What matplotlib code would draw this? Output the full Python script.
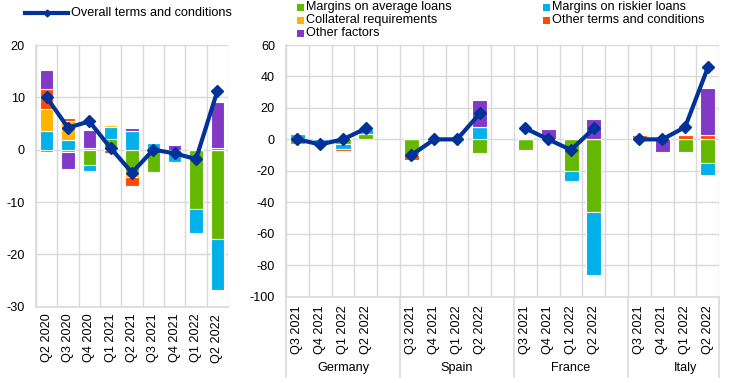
import matplotlib
matplotlib.use("Agg")
import matplotlib.pyplot as plt
import numpy as np
from matplotlib.lines import Line2D
from matplotlib.patches import Rectangle
import matplotlib.transforms as mtransforms

plt.rcParams['font.family'] = ['Liberation Sans', 'DejaVu Sans']
plt.rcParams['axes.unicode_minus'] = False
FS = 9.1

# ---------------- data ----------------
left_cats = ['Q2 2020', 'Q3 2020', 'Q4 2020', 'Q1 2021', 'Q2 2021',
             'Q3 2021', 'Q4 2021', 'Q1 2022', 'Q2 2022']
l_avg = [-0.4, -0.4, -2.9, 2.0, -4.3, -4.3, 0.0, -11.4, -17.0]
l_risk = [3.5, 1.9, -1.1, 2.4, 3.6, 1.3, -2.3, -4.6, -9.9]
l_coll = [4.3, 3.6, 0.4, 0.25, -1.0, 0.0, 0.0, 0.0, 0.0]
l_oterms = [3.7, 0.6, 0.0, -0.6, -1.7, -0.2, -0.2, 0.0, 0.4]
l_ofact = [3.8, -3.3, 3.3, 0.0, 0.6, 0.0, 0.9, 0.0, 8.7]
l_overall = [10.0, 4.2, 5.4, 0.3, -4.4, 0.0, -0.7, -1.8, 11.2]

countries = ['Germany', 'Spain', 'France', 'Italy']
quarters = ['Q3 2021', 'Q4 2021', 'Q1 2022', 'Q2 2022']
c_avg = [-3.0, 0.0, -2.8, 3.2, -10.0, 0.0, 0.0, -8.4,
         -6.7, 0.0, -20.0, -46.3, 0.0, 0.0, -7.8, -15.2]
c_risk = [3.2, -1.5, -3.6, 3.2, 0.0, 0.0, 0.0, 8.0,
          0.0, 0.0, -6.3, -39.7, 0.0, 0.0, 0.0, -7.4]
c_coll = [0.0] * 16
c_oterms = [-0.8, 0.0, -0.8, 1.3, -3.1, 0.0, 0.0, 0.0,
            0.0, 0.0, 0.0, 0.0, 2.5, 0.0, 2.5, 2.5]
c_ofact = [0.0, 0.0, 0.0, 0.0, 0.0, 0.0, 0.0, 16.8,
           0.0, 6.3, 0.0, 13.1, 0.0, -7.8, 0.0, 30.3]
c_overall = [0.0, -3.2, 0.0, 7.0, -10.0, 0.0, 0.0, 16.5,
             7.0, 0.0, -6.7, 7.0, 0.0, 0.0, 7.8, 45.7]

series_names = ['Margins on average loans', 'Margins on riskier loans',
                'Collateral requirements', 'Other terms and conditions',
                'Other factors']
colors = ['#65B800', '#00B1EA', '#FFB400', '#FF4B00', '#8139C6']
line_color = '#003299'
grid_color = '#D9D9D9'

fig = plt.figure(figsize=(7.44, 3.83), dpi=100)
W, H = 744, 383


def ax_rect(x0, y0, x1, y1):
    return [x0 / W, 1 - y1 / H, (x1 - x0) / W, (y1 - y0) / H]


def stacked(ax, x, series, width):
    pos = np.zeros(len(x))
    neg = np.zeros(len(x))
    for vals, col in zip(series, colors):
        v = np.array(vals, dtype=float)
        bottom = np.where(v >= 0, pos, neg)
        ax.bar(x, v, width=width, bottom=bottom, color=col,
               edgecolor='white', linewidth=0.8, zorder=2)
        pos = pos + np.where(v > 0, v, 0)
        neg = neg + np.where(v < 0, v, 0)


def style(ax):
    ax.grid(True, which='minor', axis='x', color=grid_color, lw=1.0, zorder=0)
    ax.grid(True, which='major', axis='y', color=grid_color, lw=1.0, zorder=0)
    ax.set_axisbelow(True)
    for s in ['top', 'right']:
        ax.spines[s].set_visible(False)
    for s in ['left', 'bottom']:
        ax.spines[s].set_color(grid_color)
        ax.spines[s].set_linewidth(1.2)
    ax.tick_params(axis='both', which='both', length=0, labelsize=FS)
    ax.tick_params(axis='x', which='minor', length=0)


# ---------------- left panel ----------------
axL = fig.add_axes(ax_rect(36, 45, 228, 306.7))
xl = np.arange(len(left_cats))
stacked(axL, xl, [l_avg, l_risk, l_coll, l_oterms, l_ofact], 0.62)
axL.plot(xl, l_overall, color=line_color, lw=3, marker='D', ms=6.5, zorder=4)
axL.set_xlim(-0.5, len(left_cats) - 0.5)
axL.set_ylim(-30, 20)
axL.set_yticks([-30, -20, -10, 0, 10, 20])
axL.set_xticks(xl)
axL.set_xticklabels(left_cats, rotation=90)
axL.set_xticks(np.arange(-0.5, len(left_cats), 1.0), minor=True)
style(axL)
axL.tick_params(axis='y', pad=8)
axL.tick_params(axis='x', which='major', pad=5)

# ---------------- right panel ----------------
axR = fig.add_axes(ax_rect(286, 45, 719.3, 296.7))
xr = np.array([g * 5 + q for g in range(len(countries)) for q in range(len(quarters))])
stacked(axR, xr, [c_avg, c_risk, c_coll, c_oterms, c_ofact], 0.66)
for g in range(len(countries)):
    sl = slice(g * 4, g * 4 + 4)
    axR.plot(xr[sl], c_overall[sl], color=line_color, lw=3, marker='D',
             ms=6.5, zorder=4)
nslots = len(countries) * 5 - 1
axR.set_xlim(-0.5, nslots - 0.5)
axR.set_ylim(-100, 60)
axR.set_yticks(np.arange(-100, 61, 20))
axR.set_xticks(xr)
axR.set_xticklabels(quarters * len(countries), rotation=90)
axR.set_xticks(np.arange(-0.5, nslots, 1.0), minor=True)
style(axR)
axR.tick_params(axis='y', pad=8)
axR.tick_params(axis='x', which='major', pad=6)

trans = mtransforms.blended_transform_factory(axR.transData, axR.transAxes)
for sx in [-0.5, 4.5, 9.5, 14.5, nslots - 0.5]:
    axR.add_line(Line2D([sx, sx], [0, -0.318], transform=trans, color=grid_color,
                        lw=1.2, clip_on=False))
for g, c in enumerate(countries):
    axR.text(g * 5 + 2.0, -0.283, c, transform=trans, ha='center', va='center',
             fontsize=FS)

# ---------------- legends ----------------
fig.add_artist(Line2D([25 / W, 68 / W], [1 - 13 / H, 1 - 13 / H], color=line_color,
                      lw=3, transform=fig.transFigure))
fig.add_artist(Line2D([46.5 / W], [1 - 13 / H], color=line_color, lw=0, marker='D',
                      ms=3.5, transform=fig.transFigure))
fig.text(71 / W, 1 - 13 / H, 'Overall terms and conditions', fontsize=FS,
         va='center', ha='left')

leg_pos = [(297, 7), (543, 7), (297, 20), (543, 20), (297, 33)]
for (px, py), name, col in zip(leg_pos, series_names, colors):
    fig.add_artist(Rectangle((px / W, 1 - (py + 3.5) / H), 7 / W, 7 / H,
                             facecolor=col, edgecolor='none',
                             transform=fig.transFigure))
    fig.text((px + 9) / W, 1 - py / H, name, fontsize=FS, va='center', ha='left')

fig.savefig('out.png', dpi=100)
